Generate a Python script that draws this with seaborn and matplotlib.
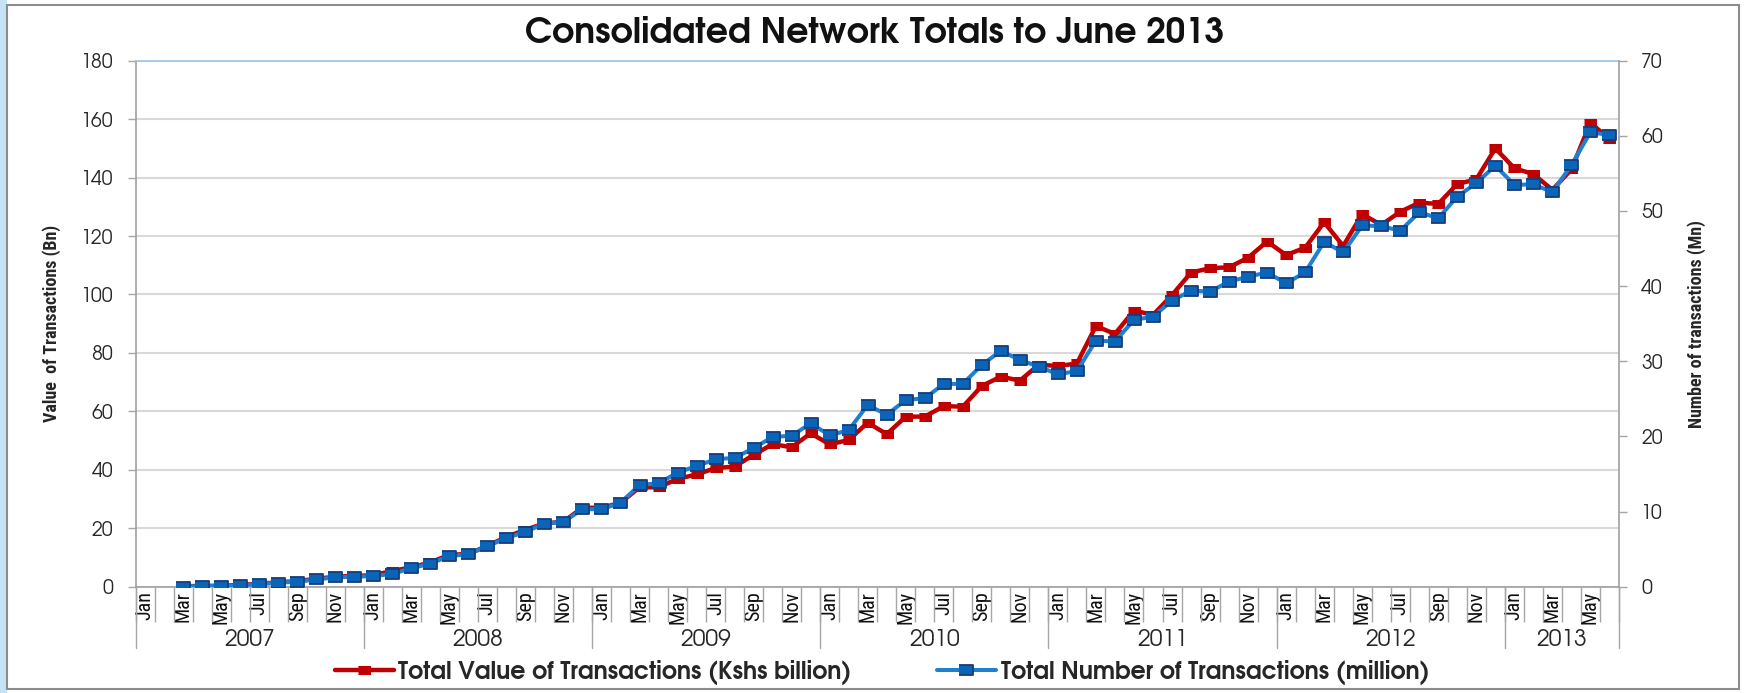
import numpy as np
import pandas as pd
import matplotlib
matplotlib.use("Agg")
import matplotlib.pyplot as plt
import matplotlib.transforms as mtransforms
from matplotlib.patches import Rectangle
import seaborn as sns

# Monthly categories Jan 2007 - Jun 2013
month_names = ['Jan', 'Feb', 'Mar', 'Apr', 'May', 'Jun',
               'Jul', 'Aug', 'Sep', 'Oct', 'Nov', 'Dec']
years = [2007, 2008, 2009, 2010, 2011, 2012, 2013]
months = [m for y in years for m in month_names][:78]

# Total value of transactions (Kshs billion), left axis
value_bn = [np.nan, np.nan,
            0.1, 0.3, 0.3, 0.6, 1.0, 1.5, 1.9, 2.7, 3.4, 3.7,
            3.9, 5.4, 6.6, 8.3, 10.9, 11.2, 14.0, 17.0, 19.5, 21.6, 22.3, 27.0,
            27.0, 28.7, 34.0, 34.0, 36.9, 38.4, 40.6, 41.1, 45.1, 48.8, 47.7, 52.5,
            48.7, 50.2, 56.1, 52.2, 58.2, 58.2, 61.8, 61.6, 68.7, 71.9, 70.5, 76.0,
            75.5, 76.4, 89.2, 86.5, 94.5, 93.0, 99.8, 107.5, 109.0, 109.3, 112.6, 118.1,
            113.5, 116.0, 124.7, 116.6, 127.5, 123.8, 128.3, 131.4, 131.0, 137.8, 139.4, 150.0,
            143.2, 141.2, 135.8, 142.8, 158.8, 153.1]

# Total number of transactions (million), right axis
number_mn = [np.nan, np.nan,
             0.02, 0.09, 0.09, 0.18, 0.35, 0.54, 0.66, 0.97, 1.24, 1.34,
             1.40, 1.71, 2.45, 3.07, 4.08, 4.32, 5.41, 6.46, 7.31, 8.40, 8.63, 10.31,
             10.31, 11.16, 13.53, 13.77, 15.17, 16.06, 16.96, 17.15, 18.43, 19.95, 20.07, 21.74,
             20.14, 20.84, 24.19, 22.87, 24.85, 25.08, 26.99, 26.99, 29.52, 31.38, 30.18, 29.28,
             28.27, 28.70, 32.75, 32.63, 35.51, 35.93, 38.07, 39.40, 39.28, 40.60, 41.26, 41.81,
             40.37, 41.84, 45.89, 44.49, 48.07, 47.99, 47.37, 49.82, 49.04, 51.92, 53.71, 56.04,
             53.47, 53.55, 52.50, 56.12, 60.47, 60.12]

df = pd.DataFrame({'pos': np.arange(len(months)), 'month': months,
                   'value': value_bn, 'number': number_mn})

sns.set_theme(style='white')
narrow = ['Roboto Condensed', 'Archivo Narrow', 'DejaVu Sans']
gothic = ['TeX Gyre Adventor', 'Questrial', 'DejaVu Sans']
plt.rcParams['font.family'] = gothic

fig = plt.figure(figsize=(17.44, 6.93), dpi=100)
ax = fig.add_axes([0.0777, 0.1534, 0.8506, 0.759])
ax2 = ax.twinx()

rect = [(-1.45, -1), (1.45, -1), (1.45, 1), (-1.45, 1)]

sns.lineplot(data=df, x='pos', y='value', ax=ax, color='#C00000', linewidth=3.2,
             marker=rect, markersize=8, markeredgecolor='#C00000',
             markerfacecolor='#C00000', label='Total Value of Transactions (Kshs billion)',
             legend=False)
sns.lineplot(data=df, x='pos', y='number', ax=ax2, color='#1F80D2', linewidth=2.9,
             marker=rect, markersize=9.5, markeredgecolor='#163C7A', markeredgewidth=1.3,
             markerfacecolor='#0A64B8', label='Total Number of Transactions (million)',
             legend=False)

ax.set_xlim(-0.5, len(months) - 0.5)
ax.set_ylim(0, 180)
ax.set_yticks(np.arange(0, 181, 20))
ax2.set_ylim(0, 70)
ax2.set_yticks(np.arange(0, 71, 10))

ax.grid(axis='y', color='#D9D9D9', linewidth=1.5)
ax.grid(axis='x', visible=False)
ax2.grid(False)

# month ticks: label every other month, boundaries as minor ticks
ax.set_xticks(df['pos'])
ax.set_xticklabels([m if i % 2 == 0 else '' for i, m in enumerate(months)],
                   rotation=90, fontsize=14.5, family=narrow, va='top')
ax.set_xticks(np.arange(-0.5, len(months), 1), minor=True)
ax.tick_params(axis='x', which='major', length=0, pad=3, colors='#111111')
ax.tick_params(axis='x', which='minor', bottom=True, length=25, width=1, color='#A6A6A6')

# year groups under the month labels
trans = mtransforms.blended_transform_factory(ax.transData, ax.transAxes)
for k, yr in enumerate(years):
    start = k * 12 - 0.5
    end = min(start + 12, len(months) - 0.5)
    ax.plot([start, start], [0, -0.117], transform=trans, clip_on=False,
            color='#A6A6A6', linewidth=1)
    ax.text((start + end) / 2, -0.1, str(yr), transform=trans, ha='center',
            va='center', fontsize=16.5, color='#262626')
ax.plot([len(months) - 0.5] * 2, [0, -0.117], transform=trans, clip_on=False,
        color='#A6A6A6', linewidth=1)

ax.tick_params(axis='y', which='major', left=True, length=6, width=1, color='#A6A6A6',
               pad=10, labelsize=14, labelcolor='#262626')
ax2.tick_params(axis='y', which='major', right=True, length=6, width=1, color='#A6A6A6',
                pad=10, labelsize=14, labelcolor='#262626')

ax.set_xlabel('')
ax2.set_xlabel('')
ax.set_ylabel('Value  of Transactions (Bn)', fontsize=13, fontweight='bold',
              family=narrow)
ax2.set_ylabel('Number of transactions (Mn)', fontsize=13, fontweight='bold',
               family=narrow)
ax.yaxis.set_label_coords(-0.0502, 0.5)
ax2.yaxis.set_label_coords(1.0459, 0.5)

for name in ['left', 'bottom']:
    ax.spines[name].set_color('#A0A0A0')
    ax.spines[name].set_linewidth(1.2)
ax.spines['top'].set_color('#9DC3E6')
ax.spines['top'].set_linewidth(1.2)
ax.spines['right'].set_visible(False)
for name in ['left', 'top', 'bottom']:
    ax2.spines[name].set_visible(False)
ax2.spines['right'].set_color('#A0A0A0')
ax2.spines['right'].set_linewidth(1.2)

fig.text(0.5014, 0.952, 'Consolidated Network Totals to June 2013', ha='center',
         va='center', fontsize=25, fontweight='bold', color='#111111')

handles = ax.get_lines()[:1] + ax2.get_lines()[:1]
fig.legend(handles, [h.get_label() for h in handles], loc='center',
           bbox_to_anchor=(0.5057, 0.030), ncol=2, frameon=False,
           prop={'family': gothic, 'weight': 'bold', 'size': 17}, handlelength=2.5,
           columnspacing=3.6, handletextpad=0.2)

# slide frame
fig.patches.append(Rectangle((0, 0), 0.004, 1, transform=fig.transFigure,
                             facecolor='#C6E2F5', edgecolor='none'))
fig.patches.append(Rectangle((0.004, 0.006), 0.993, 0.987, transform=fig.transFigure,
                             fill=False, edgecolor='#8C8C8C', linewidth=1.5))

fig.savefig('out.png', dpi=100)
